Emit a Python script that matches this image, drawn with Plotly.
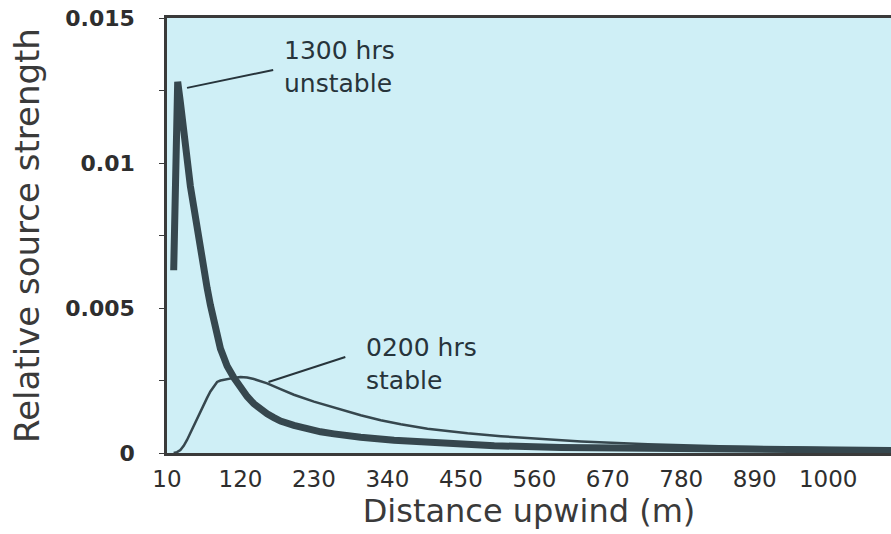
import plotly.graph_objects as go

# ---- data ----
dist_unstable = [20, 26, 30, 35, 40, 45, 50, 55, 60, 65, 70, 75, 80, 85, 90, 95, 100, 110, 120,
                 130, 140, 150, 160, 170, 180, 200, 220, 240, 260, 280, 300, 350, 400, 450, 500,
                 600, 700, 800, 900, 1000, 1094]
src_unstable = [0.0063, 0.0128, 0.0121, 0.0110, 0.0100, 0.0092, 0.0085, 0.0077, 0.0070, 0.0063,
                0.0057, 0.0051, 0.0045, 0.0040, 0.0036, 0.0033, 0.0030, 0.0026, 0.00225,
                0.00195, 0.0017, 0.0015, 0.00135, 0.00122, 0.0011, 0.00095, 0.00083, 0.00073,
                0.00066, 0.00059, 0.00054, 0.00044, 0.00036, 0.0003, 0.00025,
                0.00019, 0.00016, 0.00014, 0.00012, 0.0001, 0.00009]

dist_stable = [20, 25, 30, 35, 40, 45, 50, 55, 60, 65, 70, 75, 80, 85, 90, 100, 110, 120, 130,
               140, 150, 160, 180, 200, 230, 260, 300, 330, 360, 400, 460, 510, 570, 630, 730,
               850, 1000, 1094]
src_stable = [0.0, 0.00003, 0.0001, 0.00025, 0.00045, 0.0007, 0.00092, 0.00115, 0.0014, 0.00165,
              0.0019, 0.00212, 0.0023, 0.00245, 0.0025, 0.00255, 0.00259, 0.00262, 0.0026,
              0.00255, 0.00248, 0.0024, 0.0022, 0.00201, 0.00177, 0.00156, 0.0013, 0.00113,
              0.00099, 0.00084, 0.00068, 0.00058, 0.00048, 0.0004, 0.0003,
              0.00022, 0.00016, 0.00013]

x_ticks = [10, 120, 230, 340, 450, 560, 670, 780, 890, 1000]
y_ticks = [0, 0.005, 0.01, 0.015]
y_tick_text = ["0", "0.005", "0.01", "0.015"]

label_unstable = "1300 hrs<br>unstable"
label_stable = "0200 hrs<br>stable"

LINE = "#36474e"
TEXT = "#27343b"
FONT = "DejaVu Sans"

fig = go.Figure()
fig.add_trace(go.Scatter(x=dist_stable, y=src_stable, mode="lines",
                         line=dict(color=LINE, width=2.5), showlegend=False))
fig.add_trace(go.Scatter(x=dist_unstable, y=src_unstable, mode="lines",
                         line=dict(color=LINE, width=7), showlegend=False))

# leader lines
fig.add_shape(type="line", x0=40, y0=0.01259, x1=169, y1=0.01321,
              line=dict(color=TEXT, width=2))
fig.add_shape(type="line", x0=162, y0=0.00245, x1=277, y1=0.00331,
              line=dict(color=TEXT, width=2))

fig.add_annotation(x=184, y=0.0133, text=label_unstable, showarrow=False,
                   xanchor="left", yanchor="middle", align="left", borderpad=0,
                   font=dict(family=FONT, size=25, color=TEXT))
fig.add_annotation(x=307, y=0.00307, text=label_stable, showarrow=False,
                   xanchor="left", yanchor="middle", align="left", borderpad=0,
                   font=dict(family=FONT, size=25, color=TEXT))

fig.update_layout(
    width=891, height=534,
    margin=dict(l=167, r=0, t=18, b=81),
    paper_bgcolor="white",
    plot_bgcolor="#cfeff6",
    font=dict(family=FONT, color="#333333"),
    xaxis=dict(
        range=[10, 1094], tickvals=x_ticks, ticktext=[str(v) for v in x_ticks],
        showgrid=False, zeroline=False, showline=True, linecolor="#3a3a3a", linewidth=2.5,
        mirror=True, ticks="", ticklabelstandoff=4,
        tickfont=dict(family=FONT, size=23, color="#2e2e2e"),
        title=dict(text="Distance upwind (m)", font=dict(family=FONT, size=32, color="#3a3a3a"),
                   standoff=4),
    ),
    yaxis=dict(
        range=[0, 0.015], tickvals=y_ticks, ticktext=y_tick_text,
        showgrid=False, zeroline=False, showline=True, linecolor="#3a3a3a", linewidth=2.5,
        ticks="outside", ticklen=5, tickcolor="#3a3a3a", ticklabelstandoff=20,
        minor=dict(dtick=0.0025, ticks="outside", ticklen=5, tickcolor="#3a3a3a"),
        tickfont=dict(family=FONT, size=22, color="#2e2e2e", weight="bold"),
        title=dict(text="Relative source strength", font=dict(family=FONT, size=34, color="#3a3a3a"),
                   standoff=16),
    ),
)

fig.write_html("out.html")
